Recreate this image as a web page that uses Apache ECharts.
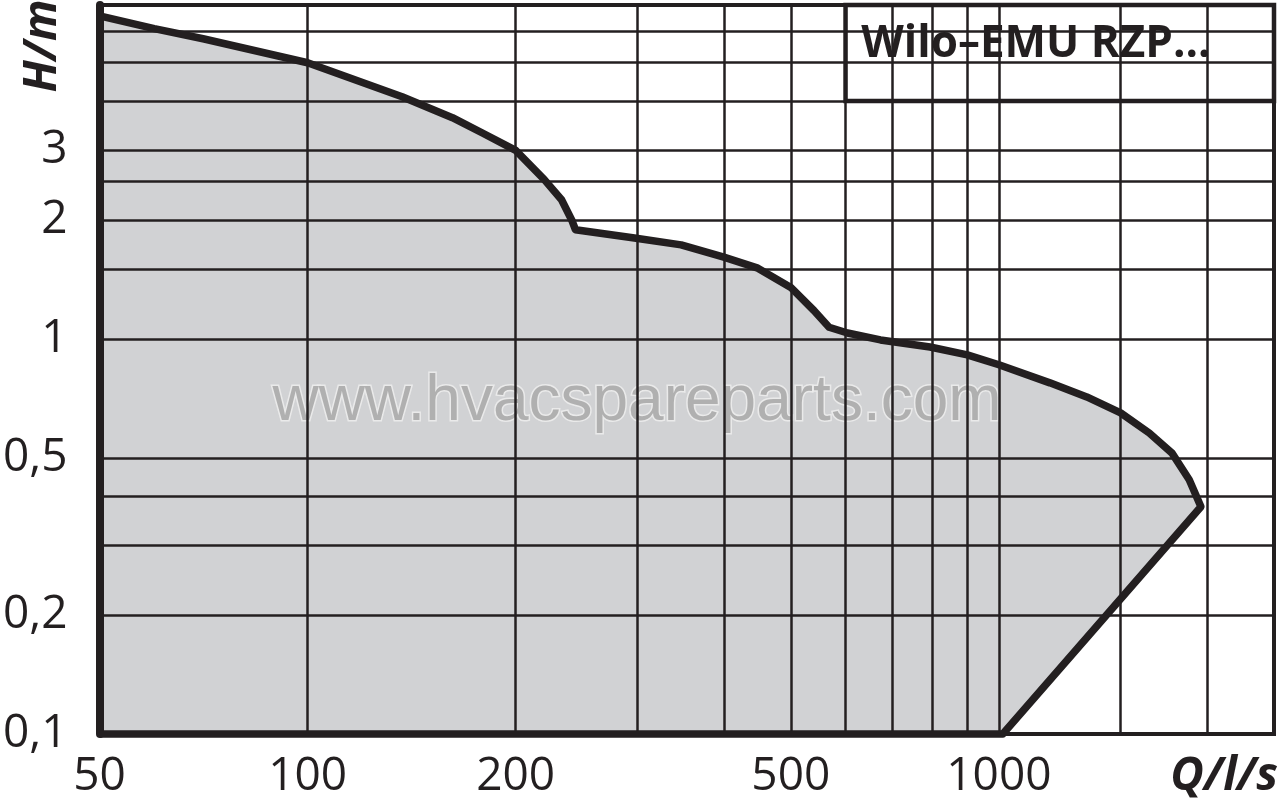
<!DOCTYPE html>
<html><head><meta charset="utf-8">
<script src="https://cdn.jsdelivr.net/npm/echarts@6/dist/echarts.min.js"></script>
<style>html,body{margin:0;padding:0;background:#fff}#c{width:1280px;height:806px}</style>
</head><body><div id="c"></div>
<script>
// Curve outline (Q in l/s, H in m), ending with the closing points of the area
const flowQ = [50, 60, 70.6, 100, 137, 162, 179, 200, 220, 233, 241, 244, 297, 347, 400, 448, 500, 540, 568, 604, 674, 795, 900, 1000, 1185, 1340, 1500, 1650, 1780, 1885, 1960, 1013, 50];
const headH = [6.57, 6.1, 5.75, 5.0, 4.1, 3.63, 3.32, 3.0, 2.53, 2.25, 2.0, 1.89, 1.80, 1.73, 1.61, 1.51, 1.35, 1.18, 1.07, 1.035, 0.994, 0.954, 0.911, 0.86, 0.774, 0.713, 0.65, 0.578, 0.514, 0.44, 0.376, 0.1, 0.1];
const xTickLabels = [50, 100, 200, 500, 1000];
const yTickLabels = [0.1, 0.2, 0.5, 1, 2, 3];
const xGridValues = [100, 200, 300, 400, 500, 600, 700, 800, 900, 1000, 1500, 2000];
const yGridValues = [0.2, 0.3, 0.4, 0.5, 1, 1.5, 2, 2.5, 3, 4, 5, 6];
const xRange = [50, 2500];
const yRange = [0.1, 7];
const titleQ = [600, 2500];
const titleH = [4, 7];
const titleText = 'Wilo–EMU RZP...';
const xName = 'Q/l/s';
const yName = 'H/m';
const watermark = 'www.hvacspareparts.com';

const INK = '#231f20';
const points = flowQ.map((q, i) => [q, headH[i]]);
const fmt = v => String(+(+v).toPrecision(6)).replace('.', ',');

const chart = echarts.init(document.getElementById('c'));
chart.setOption({
  animation: false,
  backgroundColor: '#fff',
  grid: { left: 96, right: 6, top: 5, bottom: 72, show: true, borderColor: INK, borderWidth: 4, backgroundColor: 'transparent' },
  xAxis: {
    type: 'log', logBase: 10, min: xRange[0], max: xRange[1], z: 20,
    axisLine: { show: true, lineStyle: { color: INK, width: 4 } },
    axisTick: { show: false }, splitLine: { show: false }, minorTick: { show: false },
    axisLabel: { customValues: xTickLabels, formatter: fmt, margin: 20, fontFamily: 'Open Sans', fontSize: 46, color: INK }
  },
  yAxis: {
    type: 'log', logBase: 10, min: yRange[0], max: yRange[1], z: 20,
    axisLine: { show: true, lineStyle: { color: INK, width: 8 } },
    axisTick: { show: false }, splitLine: { show: false }, minorTick: { show: false },
    axisLabel: { customValues: yTickLabels, formatter: fmt, margin: 32, fontFamily: 'Open Sans', fontSize: 46, color: INK }
  },
  graphic: [
    { type: 'text', z: 3, x: 637, y: 402,
      style: { text: watermark, align: 'center', verticalAlign: 'middle', font: '64px "Liberation Sans", Arial', fill: '#b0b0b0', stroke: 'rgba(236,236,236,0.9)', lineWidth: 3 } },
    { type: 'text', z: 30, x: 43, y: 46, rotation: Math.PI / 2,
      style: { text: yName, align: 'center', verticalAlign: 'middle', font: 'italic bold 46px "Open Sans"', fill: INK } },
    { type: 'text', z: 30, x: 1278, y: 777,
      style: { text: xName, align: 'right', verticalAlign: 'middle', font: 'italic bold 46px "Open Sans"', fill: INK } }
  ],
  series: [
    {
      type: 'custom', name: 'area', z: 1, clip: false, silent: true,
      data: [0],
      renderItem: (params, api) => ({
        type: 'polygon',
        shape: { points: points.map(p => api.coord(p)) },
        style: { fill: '#d1d2d4' }
      })
    },
    {
      type: 'line', name: 'grid', z: 5, data: [], silent: true,
      markLine: {
        silent: true, symbol: 'none', label: { show: false },
        lineStyle: { color: INK, width: 2.5, type: 'solid', opacity: 1 },
        data: xGridValues.map(v => ({ xAxis: v })).concat(yGridValues.map(v => ({ yAxis: v })))
      }
    },
    {
      type: 'line', name: 'title', z: 8, data: [], silent: true,
      markArea: {
        silent: true,
        itemStyle: { color: '#ffffff', opacity: 1, borderColor: INK, borderWidth: 4.5 },
        label: { show: true, position: 'insideTopLeft', offset: [13, 15], fontFamily: 'Open Sans', fontWeight: 'bold', fontSize: 44, color: INK },
        data: [[{ name: titleText, xAxis: titleQ[0], yAxis: titleH[0] }, { xAxis: titleQ[1], yAxis: titleH[1] }]]
      }
    },
    {
      type: 'line', name: 'curve', z: 10, clip: false, silent: true,
      data: points, symbol: 'none', smooth: false,
      lineStyle: { color: INK, width: 7.5, join: 'round' }
    }
  ]
});
</script>
</body></html>
